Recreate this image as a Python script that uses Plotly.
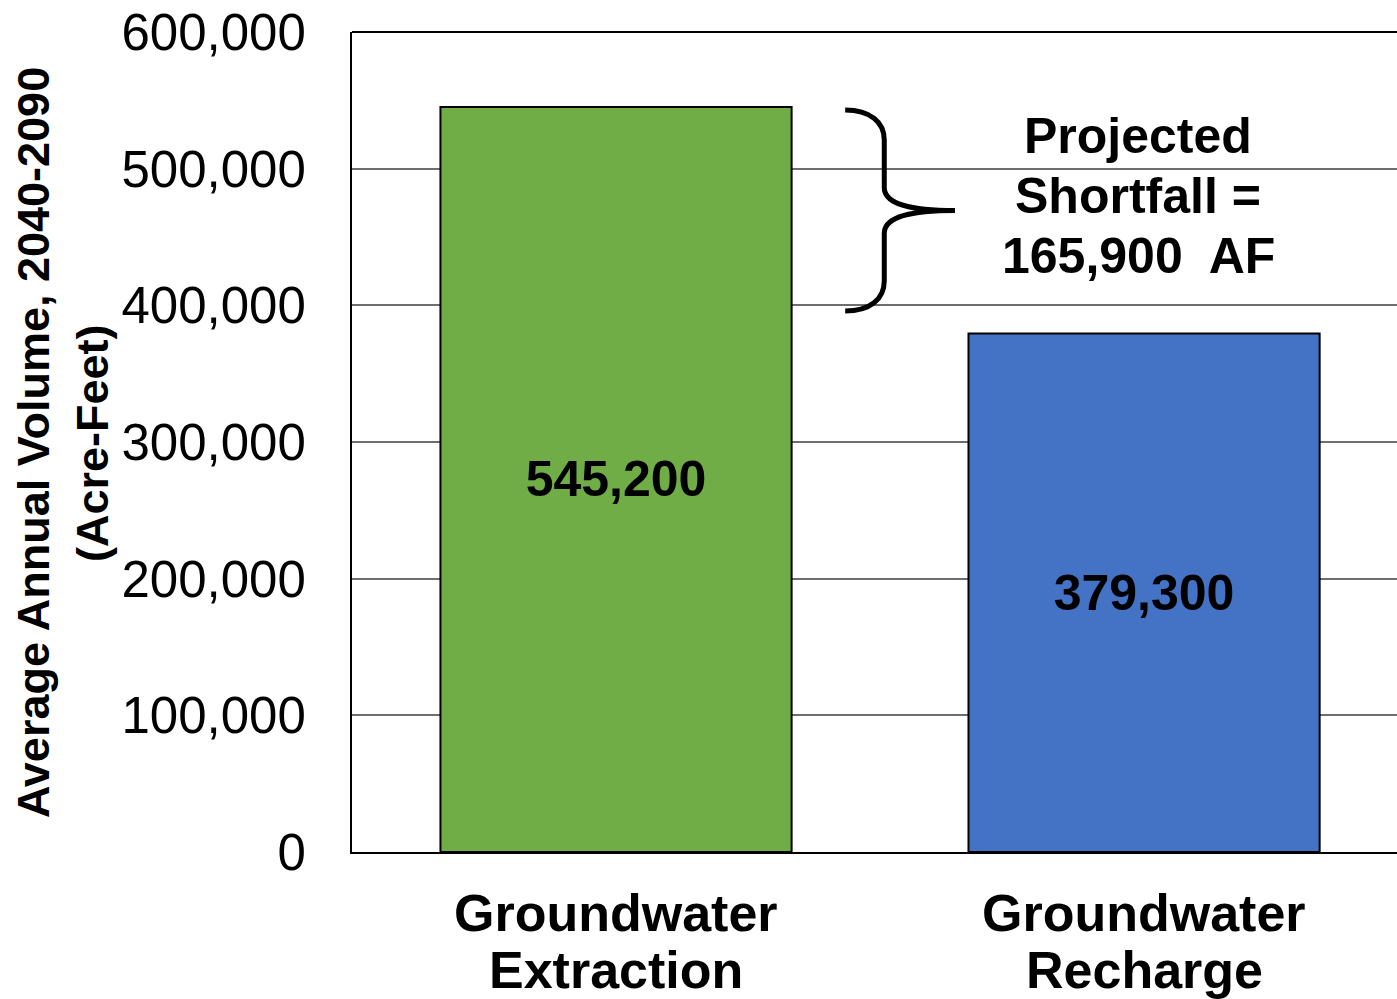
import plotly.graph_objects as go

categories = ["Groundwater<br>Extraction", "Groundwater<br>Recharge"]
values = [545200, 379300]
bar_labels = ["545,200", "379,300"]
colors = ["#70AD47", "#4472C4"]
y_ticks = [0, 100000, 200000, 300000, 400000, 500000, 600000]
shortfall_lines = ["Projected", "Shortfall =", "165,900\u00a0 AF"]
y_title_1 = "Average Annual Volume, 2040-2090"
y_title_2 = "(Acre-Feet)"

FONT = "Liberation Sans, Arial, sans-serif"
xpos = list(range(len(categories)))

fig = go.Figure()
fig.add_trace(go.Bar(
    x=xpos, y=values, width=0.665,
    marker=dict(color=colors, line=dict(color="black", width=2)),
    text=bar_labels, textposition="inside", insidetextanchor="middle",
    textangle=0, constraintext="none",
    textfont=dict(family=FONT, size=50, color="black", weight="bold"),
    hoverinfo="skip",
))

# brace (data coordinates)
yT, yB = 542900, 395800
yM = (yT + yB) / 2
x_tip, x_stem, x_point = 0.434, 0.508, 0.642
dx1, dxB = 0.047, 0.028
dy1, dyA, dy2, dyB = 22000, 8800, 16800, 7300
path = (
    f"M {x_tip},{yT} C {x_tip+dx1},{yT} {x_stem},{yT-dyA} {x_stem},{yT-dy1} "
    f"L {x_stem},{yM+dy2} "
    f"C {x_stem},{yM+dyB} {x_stem+dxB},{yM} {x_point},{yM} "
    f"C {x_stem+dxB},{yM} {x_stem},{yM-dyB} {x_stem},{yM-dy2} "
    f"L {x_stem},{yB+dy1} "
    f"C {x_stem},{yB+dyA} {x_tip+dx1},{yB} {x_tip},{yB}"
)
fig.add_shape(type="path", path=path, xref="x", yref="y",
              line=dict(color="black", width=5), layer="above")
# top border
fig.add_shape(type="line", xref="paper", yref="paper", x0=0, x1=1, y0=1, y1=1,
              line=dict(color="black", width=2))

line_step = 43900
for i, txt in enumerate(shortfall_lines):
    fig.add_annotation(x=0.989, y=480000 + (1 - i) * line_step, xref="x", yref="y",
                       text=txt, showarrow=False, xanchor="center", yanchor="middle",
                       font=dict(family=FONT, size=50, color="black", weight="bold"))

# category labels (two lines each, tight line spacing)
cat_line_y = [-0.0738, -0.1433]
for xp, cat in zip(xpos, categories):
    for j, part in enumerate(cat.split("<br>")):
        fig.add_annotation(x=xp, y=cat_line_y[j], xref="x", yref="paper",
                           text=part, showarrow=False, xanchor="center", yanchor="middle",
                           font=dict(family=FONT, size=52, color="black", weight="bold"))

fig.add_annotation(x=-0.3043, y=0.4988, xref="paper", yref="paper", text=y_title_1,
                   textangle=-90, showarrow=False, xanchor="center", yanchor="middle",
                   font=dict(family=FONT, size=45, color="black", weight="bold"))
fig.add_annotation(x=-0.2478, y=0.4988, xref="paper", yref="paper", text=y_title_2,
                   textangle=-90, showarrow=False, xanchor="center", yanchor="middle",
                   font=dict(family=FONT, size=45, color="black", weight="bold"))

fig.update_layout(
    width=1397, height=999,
    margin=dict(l=352, r=0, t=32, b=147, autoexpand=False),
    plot_bgcolor="white", paper_bgcolor="white",
    showlegend=False,
    font=dict(family=FONT, color="black"),
    xaxis=dict(range=[-0.5, 1.479], tickvals=xpos, showticklabels=False,
               showline=True, linecolor="black", linewidth=2, showgrid=False,
               ticks="", zeroline=False, automargin=False),
    yaxis=dict(range=[0, 600000], tickvals=y_ticks, tickformat=",d",
               showline=True, linecolor="black", linewidth=2,
               showgrid=True, gridcolor="#6e6e6e", gridwidth=2,
               zeroline=False, ticks="", ticklabelstandoff=34, automargin=False,
               ticklabeloverflow="allow",
               tickfont=dict(family=FONT, size=51, color="black")),
)

fig.write_html(
    "out.html",
    config={"displayModeBar": False},
    post_script="document.body.style.margin='0';document.body.style.overflow='hidden';",
)
